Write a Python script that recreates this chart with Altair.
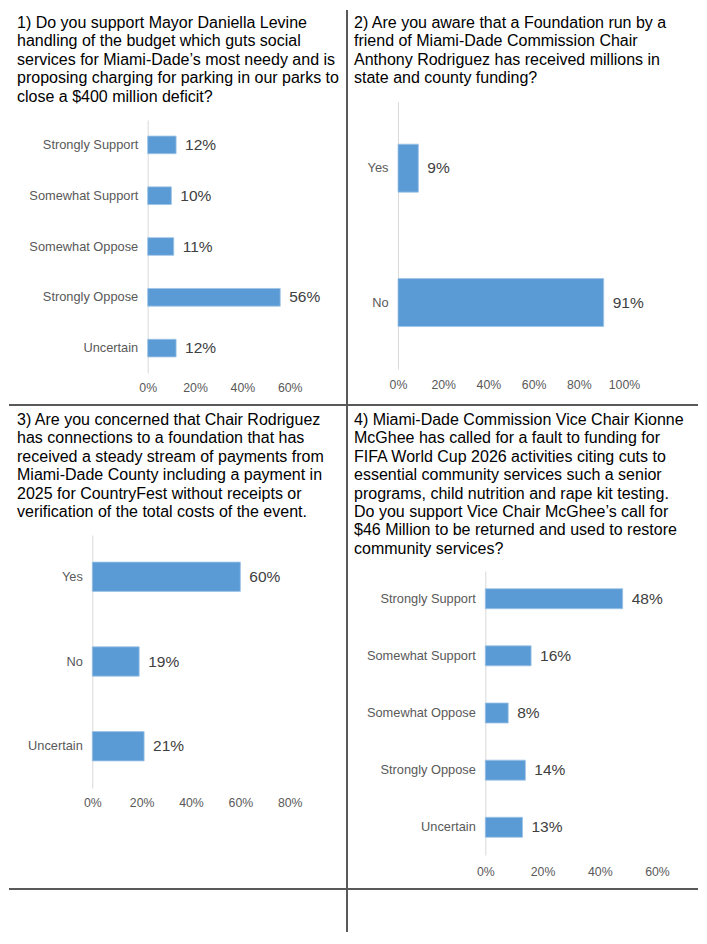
import altair as alt
import pandas as pd

FONT = "Liberation Sans"

# ---------------- data ----------------
q1_title = [
    "1) Do you support Mayor Daniella Levine",
    "handling of the budget which guts social",
    "services for Miami-Dade\u2019s most needy and is",
    "proposing charging for parking in our parks to",
    "close a $400 million deficit?",
]
q1_cats = ["Strongly Support", "Somewhat Support", "Somewhat Oppose", "Strongly Oppose", "Uncertain"]
q1_vals = [12, 10, 11, 56, 12]
q1_ticks = [0, 20, 40, 60]

q2_title = [
    "2) Are you aware that a Foundation run by a",
    "friend of Miami-Dade Commission Chair",
    "Anthony Rodriguez has received millions in",
    "state and county funding?",
]
q2_cats = ["Yes", "No"]
q2_vals = [9, 91]
q2_ticks = [0, 20, 40, 60, 80, 100]

q3_title = [
    "3) Are you concerned that Chair Rodriguez",
    "has connections to a foundation that has",
    "received a steady stream of payments from",
    "Miami-Dade County including a payment in",
    "2025 for CountryFest without receipts or",
    "verification of the total costs of the event.",
]
q3_cats = ["Yes", "No", "Uncertain"]
q3_vals = [60, 19, 21]
q3_ticks = [0, 20, 40, 60, 80]

q4_title = [
    "4) Miami-Dade Commission Vice Chair Kionne",
    "McGhee has called for a fault to funding for",
    "FIFA World Cup 2026 activities citing cuts to",
    "essential community services such a senior",
    "programs, child nutrition and rape kit testing.",
    "Do you support Vice Chair McGhee\u2019s call for",
    "$46 Million to be returned and used to restore",
    "community services?",
]
q4_cats = ["Strongly Support", "Somewhat Support", "Somewhat Oppose", "Strongly Oppose", "Uncertain"]
q4_vals = [48, 16, 8, 14, 13]
q4_ticks = [0, 20, 40, 60]

BAR = "#5B9BD5"
LABEL = "#595959"
VALUE = "#404040"
LINE = "#595959"


def divider(x, x2, y, y2):
    return alt.Chart(pd.DataFrame({"k": [0]})).mark_rule(
        color=LINE, strokeWidth=2
    ).encode(x=alt.value(x), x2=alt.value(x2), y=alt.value(y), y2=alt.value(y2))


def heading(lines, tx, ty):
    return alt.Chart(pd.DataFrame({"t": ["\n".join(lines)]})).mark_text(
        align="left", baseline="top", lineBreak="\n", lineHeight=18.4,
        fontSize=16, font=FONT, color="black",
    ).encode(text="t:N", x=alt.value(tx), y=alt.value(ty))


def panel(title, cats, vals, ticks, w, h, xr, yr, pin, pout, xoff, tdx, rules):
    df = pd.DataFrame({"cat": cats, "val": vals})
    xs = alt.Scale(domain=[ticks[0], ticks[-1]], range=xr, nice=False, zero=True)
    ys = alt.Scale(range=yr, paddingInner=pin, paddingOuter=pout)
    x = alt.X(
        "val:Q",
        scale=xs,
        axis=alt.Axis(
            values=ticks, labelExpr="datum.value + '%'", domain=False, ticks=False,
            grid=False, labelColor=LABEL, labelFontSize=12.3, labelPadding=2,
            offset=xoff, title=None, labelFlush=False, labelFont=FONT,
        ),
    )
    y = alt.Y(
        "cat:N",
        sort=cats,
        scale=ys,
        axis=alt.Axis(
            title=None, ticks=False, domainColor="#D9D9D9", domainWidth=1,
            labelColor=LABEL, labelFontSize=12.8, labelPadding=10,
            offset=-xr[0], labelLimit=300, labelFont=FONT, grid=False,
        ),
    )
    bars = alt.Chart(df).mark_bar(color=BAR, stroke="#9DC3E6", strokeWidth=0.8).encode(x=x, y=y)
    text = (
        alt.Chart(df)
        .transform_calculate(label="datum.val + '%'")
        .mark_text(align="left", baseline="middle", dx=9, fontSize=15.5, color=VALUE, font=FONT)
        .encode(x=alt.X("val:Q"), y=alt.Y("cat:N", sort=cats), text="label:N")
    )
    layers = [bars, text, heading(title, tdx, 7)] + [divider(*r) for r in rules]
    return alt.layer(*layers).properties(width=w, height=h)


p1 = panel(q1_title, q1_cats, q1_vals, q1_ticks, 338, 397, [138.7, 280.7], [112, 365],
           0.652, 0.316, -26, 8, [(338, 338, 2, 397), (0, 338, 397, 397)])
p2 = panel(q2_title, q2_cats, q2_vals, q2_ticks, 351, 397, [51, 277], [93.7, 361],
           0.643, 0.316, -29, 7, [(0, 351, 397, 397)])
p3 = panel(q3_title, q3_cats, q3_vals, q3_ticks, 338, 484, [83.3, 280.7], [130, 383],
           0.654, 0.32, -95, 8, [(338, 338, 0, 527), (0, 338, 484, 484)])
p4 = panel(q4_title, q4_cats, q4_vals, q4_ticks, 351, 484, [138.3, 310], [166, 450],
           0.65, 0.31, -26, 7, [(0, 351, 484, 484)])

chart = (
    alt.concat(p1, p2, p3, p4, columns=2, spacing=0, bounds="flush")
    .properties(padding=0)
    .configure_view(stroke=None)
)

chart.save("out.html", embed_options={"renderer": "svg", "actions": False})
